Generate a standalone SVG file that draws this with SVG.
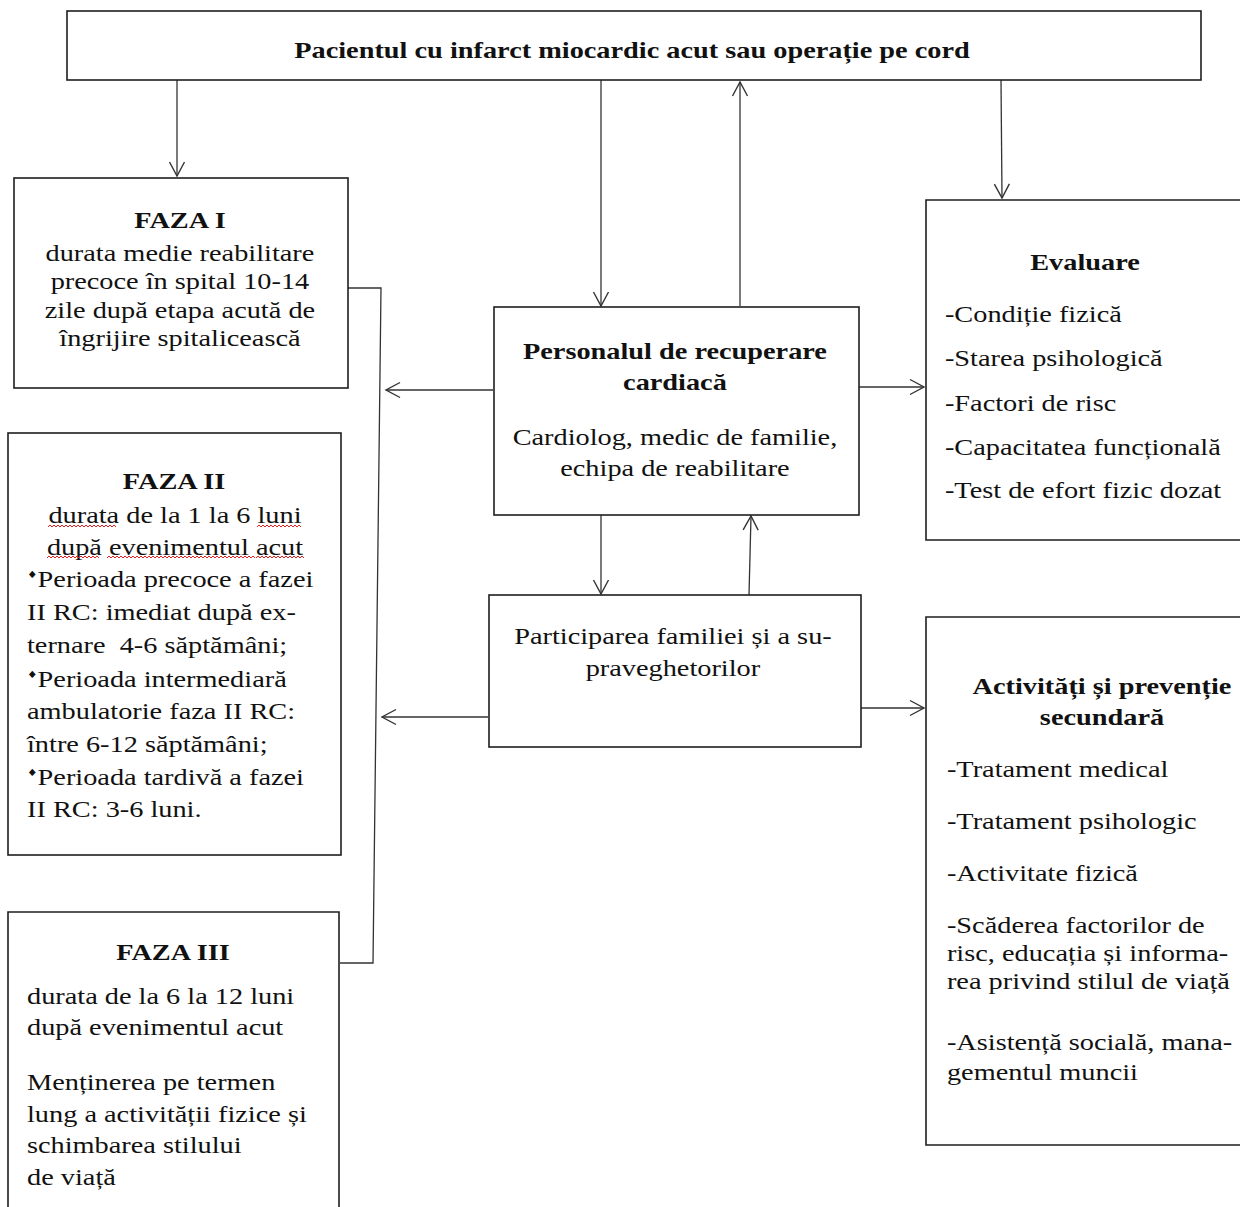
<svg xmlns="http://www.w3.org/2000/svg" width="1240" height="1207" viewBox="0 0 1240 1207">
<style>
.box{fill:#fff;stroke:#1e1e1e;stroke-width:1.6}
.t{font-family:"Liberation Serif","Times New Roman",serif;font-size:24px;fill:#111}
.b{font-weight:bold}
.c{text-anchor:middle}
.dia{font-family:"DejaVu Sans",sans-serif;font-size:10px}
.con{fill:none;stroke:#333;stroke-width:1.3}
.wavy{fill:none;stroke:#e02020;stroke-width:1}
</style>
<defs>
<marker id="arr" markerWidth="18" markerHeight="18" refX="15" refY="9" orient="auto" markerUnits="userSpaceOnUse">
<path d="M1,1.5 L15,9 L1,16.5" fill="none" stroke="#333" stroke-width="1.4"/>
</marker>
</defs>
<rect width="1240" height="1207" fill="#fff"/>

<g id="connectors">
<path class="con" d="M177,80 V176" marker-end="url(#arr)"/>
<path class="con" d="M601,80 V306" marker-end="url(#arr)"/>
<path class="con" d="M740,306 V82" marker-end="url(#arr)"/>
<path class="con" d="M1001,80 L1002,198" marker-end="url(#arr)"/>
<path class="con" d="M493,390 H386" marker-end="url(#arr)"/>
<path class="con" d="M859,387 H924" marker-end="url(#arr)"/>
<path class="con" d="M601,515 V594" marker-end="url(#arr)"/>
<path class="con" d="M749,595 L751,516" marker-end="url(#arr)"/>
<path class="con" d="M488,717 H382" marker-end="url(#arr)"/>
<path class="con" d="M861,708 H924" marker-end="url(#arr)"/>
<path class="con" d="M348,288 H381 L373,963 H340"/>
</g>

<g id="pacient">
<rect class="box" x="67" y="11" width="1134" height="69"/>
<g transform="scale(1.18 1)">
<text class="t b c" x="535.6" y="58">Pacientul cu infarct miocardic acut sau operație pe cord</text>
</g>
</g>

<g id="faza1">
<rect class="box" x="14" y="178" width="334" height="210"/>
<g transform="scale(1.18 1)">
<text class="t b c" x="152.5" y="228">FAZA I</text>
<text class="t c" x="152.5" y="261">durata medie reabilitare</text>
<text class="t c" x="152.5" y="289">precoce în spital 10-14</text>
<text class="t c" x="152.5" y="318">zile după etapa acută de</text>
<text class="t c" x="152.5" y="346">îngrijire spitalicească</text>
</g>
</g>

<g id="faza2">
<rect class="box" x="8" y="433" width="333" height="422"/>
<g transform="scale(1.18 1)">
<text class="t b c" x="147.5" y="489">FAZA II</text>
<text class="t c" x="148.3" y="523">durata de la 1 la 6 luni</text>
<text class="t c" x="148.3" y="555">după evenimentul acut</text>
<text class="t" x="22.9" y="587"><tspan class="dia" dy="-9">♦</tspan><tspan dy="9">Perioada precoce a fazei</tspan></text>
<text class="t" x="22.9" y="620">II RC: imediat după ex-</text>
<text class="t" x="22.9" y="653" xml:space="preserve">ternare  4-6 săptămâni;</text>
<text class="t" x="22.9" y="687"><tspan class="dia" dy="-9">♦</tspan><tspan dy="9">Perioada intermediară</tspan></text>
<text class="t" x="22.9" y="719">ambulatorie faza II RC:</text>
<text class="t" x="22.9" y="752">între 6-12 săptămâni;</text>
<text class="t" x="22.9" y="785"><tspan class="dia" dy="-9">♦</tspan><tspan dy="9">Perioada tardivă a fazei</tspan></text>
<text class="t" x="22.9" y="817">II RC: 3-6 luni.</text>
</g>
<path class="wavy" d="M48,527 l2,-2 l2,2 l2,-2 l2,2 l2,-2 l2,2 l2,-2 l2,2 l2,-2 l2,2 l2,-2 l2,2 l2,-2 l2,2 l2,-2 l2,2 l2,-2 l2,2 l2,-2 l2,2 l2,-2 l2,2 l2,-2 l2,2 l2,-2 l2,2 l2,-2 l2,2 l2,-2 l2,2 l2,-2 l2,2 l2,-2 l2,2"/>
<path class="wavy" d="M257,527 l2,-2 l2,2 l2,-2 l2,2 l2,-2 l2,2 l2,-2 l2,2 l2,-2 l2,2 l2,-2 l2,2 l2,-2 l2,2 l2,-2 l2,2 l2,-2 l2,2 l2,-2 l2,2 l2,-2 l2,2"/>
<path class="wavy" d="M47,558 l2,-2 l2,2 l2,-2 l2,2 l2,-2 l2,2 l2,-2 l2,2 l2,-2 l2,2 l2,-2 l2,2 l2,-2 l2,2 l2,-2 l2,2 l2,-2 l2,2 l2,-2 l2,2 l2,-2 l2,2 l2,-2 l2,2 l2,-2 l2,2"/>
<path class="wavy" d="M107,558 l2,-2 l2,2 l2,-2 l2,2 l2,-2 l2,2 l2,-2 l2,2 l2,-2 l2,2 l2,-2 l2,2 l2,-2 l2,2 l2,-2 l2,2 l2,-2 l2,2 l2,-2 l2,2 l2,-2 l2,2 l2,-2 l2,2 l2,-2 l2,2 l2,-2 l2,2 l2,-2 l2,2 l2,-2 l2,2 l2,-2 l2,2 l2,-2 l2,2 l2,-2 l2,2 l2,-2 l2,2 l2,-2 l2,2 l2,-2 l2,2 l2,-2 l2,2 l2,-2 l2,2 l2,-2 l2,2 l2,-2 l2,2 l2,-2 l2,2 l2,-2 l2,2 l2,-2 l2,2 l2,-2 l2,2 l2,-2 l2,2 l2,-2 l2,2 l2,-2 l2,2 l2,-2 l2,2 l2,-2 l2,2 l2,-2 l2,2 l2,-2 l2,2"/>
<path class="wavy" d="M256,558 l2,-2 l2,2 l2,-2 l2,2 l2,-2 l2,2 l2,-2 l2,2 l2,-2 l2,2 l2,-2 l2,2 l2,-2 l2,2 l2,-2 l2,2 l2,-2 l2,2 l2,-2 l2,2 l2,-2 l2,2 l2,-2 l2,2"/>
</g>

<g id="faza3">
<path class="box" d="M8,1210 V912 H339 V1210"/>
<g transform="scale(1.18 1)">
<text class="t b c" x="146.6" y="960">FAZA III</text>
<text class="t" x="22.9" y="1004">durata de la 6 la 12 luni</text>
<text class="t" x="22.9" y="1035">după evenimentul acut</text>
<text class="t" x="22.9" y="1090">Menținerea pe termen</text>
<text class="t" x="22.9" y="1122">lung a activității fizice și</text>
<text class="t" x="22.9" y="1153">schimbarea stilului</text>
<text class="t" x="22.9" y="1185">de viață</text>
</g>
</g>

<g id="personal">
<rect class="box" x="494" y="307" width="365" height="208"/>
<g transform="scale(1.18 1)">
<text class="t b c" x="572" y="359">Personalul de recuperare</text>
<text class="t b c" x="572" y="390">cardiacă</text>
<text class="t c" x="572" y="445">Cardiolog, medic de familie,</text>
<text class="t c" x="572" y="476">echipa de reabilitare</text>
</g>
</g>

<g id="participare">
<rect class="box" x="489" y="595" width="372" height="152"/>
<g transform="scale(1.18 1)">
<text class="t c" x="570.3" y="644">Participarea familiei și a su-</text>
<text class="t c" x="570.3" y="676">praveghetorilor</text>
</g>
</g>

<g id="evaluare">
<path class="box" d="M1245,200 H926 V540 H1245"/>
<g transform="scale(1.18 1)">
<text class="t b c" x="919.5" y="270">Evaluare</text>
<text class="t" x="800.8" y="322">-Condiție fizică</text>
<text class="t" x="800.8" y="366">-Starea psihologică</text>
<text class="t" x="800.8" y="411">-Factori de risc</text>
<text class="t" x="800.8" y="455">-Capacitatea funcțională</text>
<text class="t" x="800.8" y="498">-Test de efort fizic dozat</text>
</g>
</g>

<g id="activitati">
<path class="box" d="M1245,617 H926 V1145 H1245"/>
<g transform="scale(1.18 1)">
<text class="t b c" x="933.9" y="694">Activități și prevenție</text>
<text class="t b c" x="933.9" y="725">secundară</text>
<text class="t" x="802.5" y="777">-Tratament medical</text>
<text class="t" x="802.5" y="829">-Tratament psihologic</text>
<text class="t" x="802.5" y="881">-Activitate fizică</text>
<text class="t" x="802.5" y="933">-Scăderea factorilor de</text>
<text class="t" x="802.5" y="961">risc, educația și informa-</text>
<text class="t" x="802.5" y="989">rea privind stilul de viață</text>
<text class="t" x="802.5" y="1050">-Asistență socială, mana-</text>
<text class="t" x="802.5" y="1080">gementul muncii</text>
</g>
</g>
</svg>
